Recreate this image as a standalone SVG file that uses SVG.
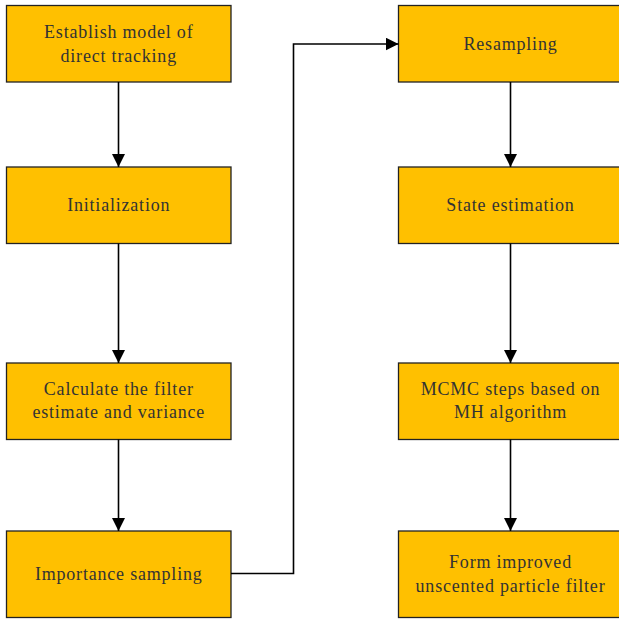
<svg xmlns="http://www.w3.org/2000/svg" width="619" height="619" viewBox="0 0 619 619">
<style>
.box{fill:#FFC000;stroke:#222;stroke-width:1.3}
.t{font-family:"Liberation Serif","Times New Roman",serif;font-size:18px;fill:#333;text-anchor:middle;letter-spacing:0.8px}
.c{fill:none;stroke:#000;stroke-width:1.6}
</style>
<defs>
<marker id="ah" markerWidth="13" markerHeight="13" refX="13" refY="6.5" orient="auto" markerUnits="userSpaceOnUse">
<path d="M0,0 L13,6.5 L0,13 Z" fill="#000"/>
</marker>
</defs>
<g id="n1"><rect class="box" x="6.5" y="5.5" width="224.5" height="76.5"/><text class="t" x="118.75" y="38">Establish model of</text><text class="t" x="118.75" y="61.5">direct tracking</text></g>
<g id="n2"><rect class="box" x="6.5" y="167" width="224.5" height="76.5"/><text class="t" x="118.75" y="211">Initialization</text></g>
<g id="n3"><rect class="box" x="6.5" y="363" width="224.5" height="76.5"/><text class="t" x="118.75" y="395">Calculate the filter</text><text class="t" x="118.75" y="418">estimate and variance</text></g>
<g id="n4"><rect class="box" x="6.5" y="531" width="224.5" height="86.5"/><text class="t" x="118.75" y="580">Importance sampling</text></g>
<g id="n5"><rect class="box" x="398.5" y="5.5" width="224.5" height="76.5"/><text class="t" x="510.5" y="50">Resampling</text></g>
<g id="n6"><rect class="box" x="398.5" y="167" width="224.5" height="76.5"/><text class="t" x="510.5" y="211">State estimation</text></g>
<g id="n7"><rect class="box" x="398.5" y="363" width="224.5" height="76.5"/><text class="t" x="510.5" y="395">MCMC steps based on</text><text class="t" x="510.5" y="418">MH algorithm</text></g>
<g id="n8"><rect class="box" x="398.5" y="531" width="224.5" height="86.5"/><text class="t" x="510.5" y="568">Form improved</text><text class="t" x="510.5" y="591.5">unscented particle filter</text></g>
<g id="connectors">
<line class="c" x1="118.5" y1="82" x2="118.5" y2="167" marker-end="url(#ah)"/>
<line class="c" x1="118.5" y1="243.5" x2="118.5" y2="363" marker-end="url(#ah)"/>
<line class="c" x1="118.5" y1="439.5" x2="118.5" y2="531" marker-end="url(#ah)"/>
<polyline class="c" points="231,573.5 293.5,573.5 293.5,44 398.5,44" marker-end="url(#ah)"/>
<line class="c" x1="510.5" y1="82" x2="510.5" y2="167" marker-end="url(#ah)"/>
<line class="c" x1="510.5" y1="243.5" x2="510.5" y2="363" marker-end="url(#ah)"/>
<line class="c" x1="510.5" y1="439.5" x2="510.5" y2="531" marker-end="url(#ah)"/>
</g>
</svg>
